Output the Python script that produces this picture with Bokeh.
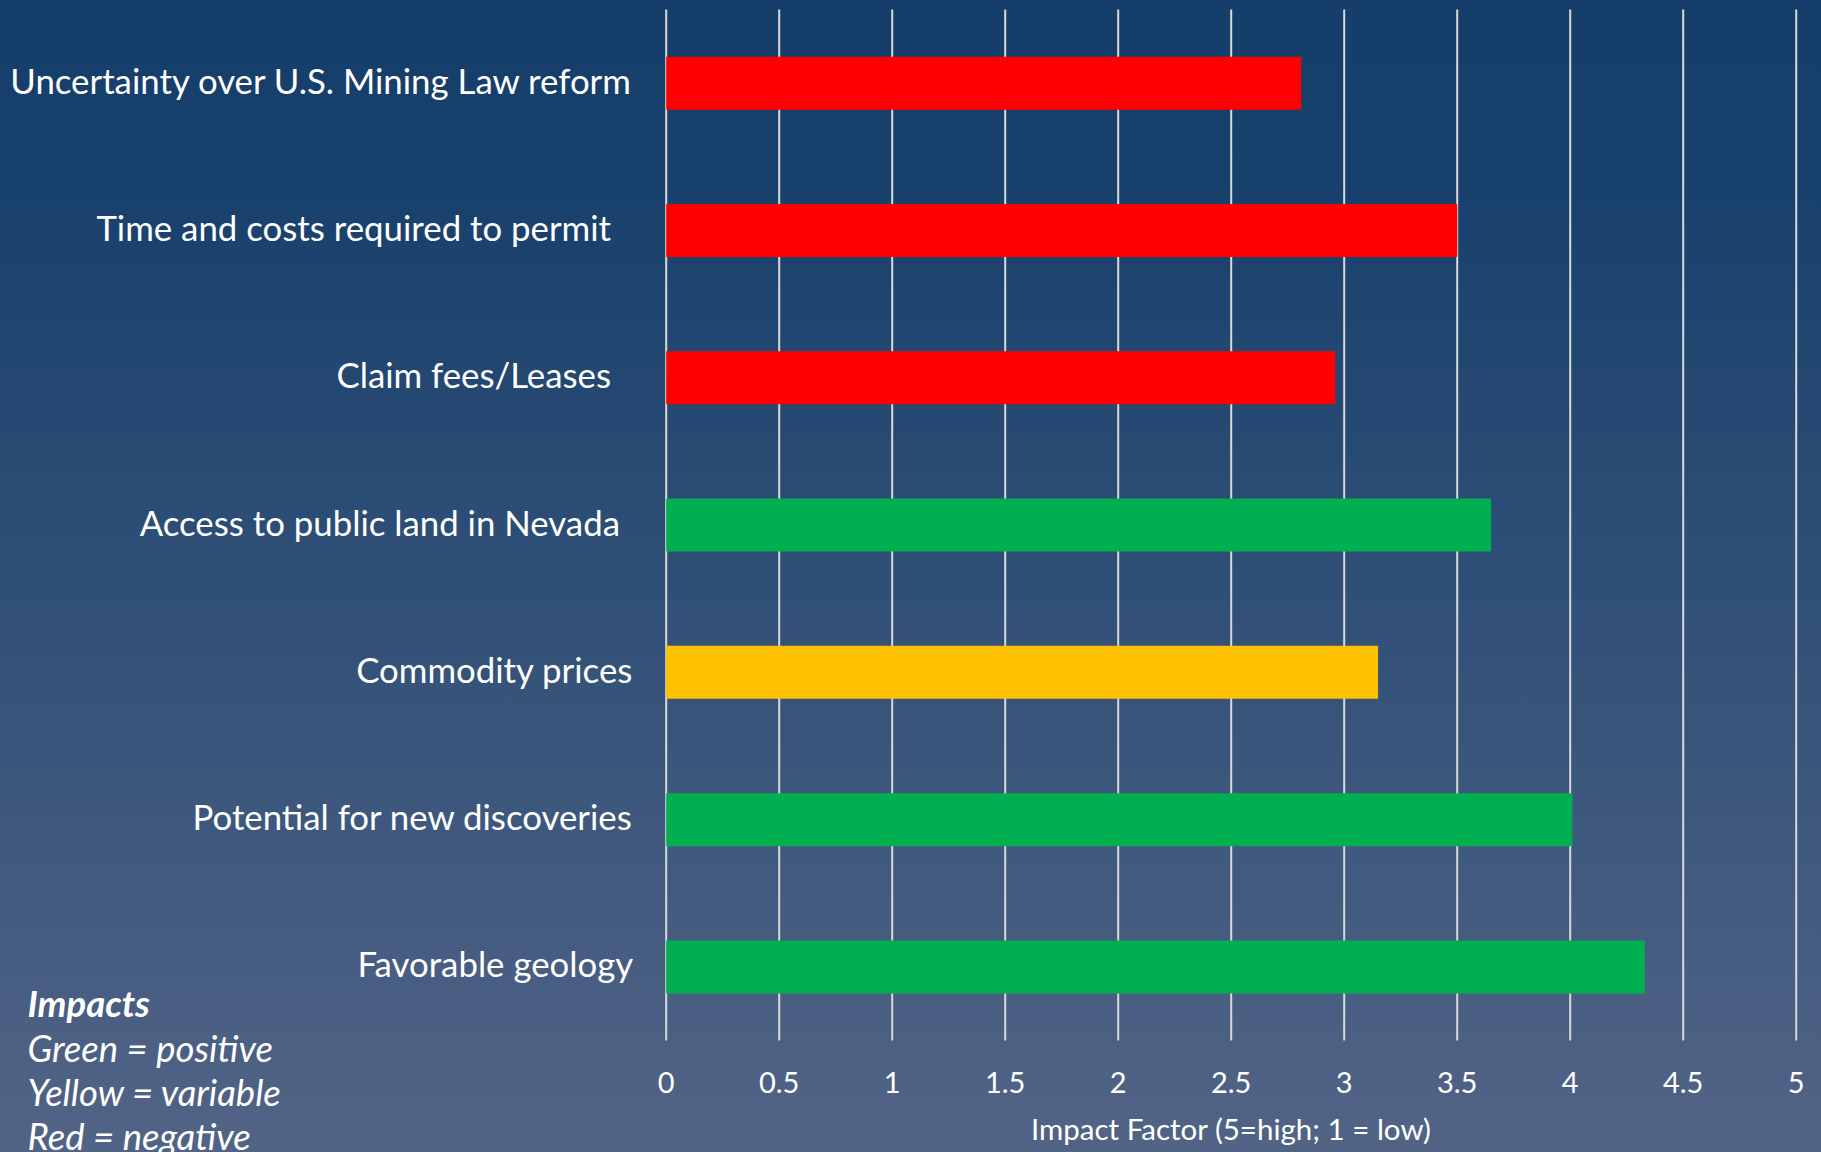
from bokeh.plotting import figure
from bokeh.models import Range1d
from bokeh.core.properties import value
from bokeh.embed import file_html
from bokeh.resources import INLINE

# ---- data ----
categories = [
    "Uncertainty over U.S. Mining Law reform",
    "Time and costs required to permit\u00a0\u00a0\u2009",
    "Claim fees/Leases\u00a0\u00a0\u2009",
    "Access to public land in Nevada\u00a0\u2009",
    "Commodity prices",
    "Potential for new discoveries",
    "Favorable geology",
]
impact_values = [2.81, 3.50, 2.96, 3.65, 3.15, 4.01, 4.33]
impact_kind = ["negative", "negative", "negative", "positive", "variable", "positive", "positive"]
kind_colors = {"positive": "#00B050", "variable": "#FFC000", "negative": "#FF0000"}
x_tick_values = [0, 0.5, 1, 1.5, 2, 2.5, 3, 3.5, 4, 4.5, 5]
x_tick_labels = ["0", "0.5", "1", "1.5", "2", "2.5", "3", "3.5", "4", "4.5", "5"]
x_axis_title = "Impact Factor (5=high; 1 = low)"
legend_title = "Impacts"
legend_lines = ["Green = positive", "Yellow = variable", "Red = negative"]

FONT = value("Lato")

# ---- layout geometry (pixels) ----
W, H = 1821, 1152
PX_UNIT = 226.0      # pixels per impact unit
ZERO_PX = 665.7      # x pixel of impact value 0
BAND_PX = 147.3      # pixels per category band
TOP_PX = 9.0         # top of the category area
N = len(categories)
BOTTOM_PX = TOP_PX + N * BAND_PX


def dx(px):
    return (px - ZERO_PX) / PX_UNIT


def dy(px):
    return (BOTTOM_PX - px) / BAND_PX


p = figure(
    width=W, height=H,
    x_range=Range1d(dx(0), dx(W)),
    y_range=Range1d(dy(H), dy(0)),
    output_backend="svg", toolbar_location=None,
    x_axis_location=None, y_axis_location=None,
    min_border=0,
)
p.styles = {"background": "linear-gradient(to bottom, #163E6B 0%, #17406C 15%, #526486 100%)"}
p.background_fill_color = None
p.border_fill_color = None
p.outline_line_color = None
p.grid.visible = False

band_centers = [N - 0.5 - i for i in range(N)]

# vertical grid lines at the tick values, spanning the category area
p.segment(x0=x_tick_values, y0=0, x1=x_tick_values, y1=N,
          line_color="#D9D9D9", line_width=2)

# bars
bar_colors = [kind_colors[k] for k in impact_kind]
p.hbar(y=band_centers, left=0, right=impact_values, height=0.36,
       color=bar_colors, line_color=None)

# category labels (left of the zero line)
p.text(x=0, y=band_centers, text=categories, x_offset=-33, y_offset=-3,
       text_align="right", text_baseline="middle",
       text_color="white", text_font=FONT, text_font_size="34.8px")

# x tick labels
p.text(x=x_tick_values, y=dy(1082), text=x_tick_labels,
       text_align="center", text_baseline="middle",
       text_color="white", text_font=FONT, text_font_size="29px")

# x axis title
p.text(x=[(x_tick_values[0] + x_tick_values[-1]) / 2], y=dy(1128), text=[x_axis_title],
       text_align="center", text_baseline="middle",
       text_color="white", text_font=FONT, text_font_size="29.5px")

# notes in the lower-left corner
note_left_px = 27
p.text(x=dx(note_left_px), y=dy(1002), text=[legend_title],
       text_align="left", text_baseline="middle",
       text_color="white", text_font=FONT, text_font_size="36.5px",
       text_font_style="bold italic")
p.text(x=dx(note_left_px), y=[dy(1047), dy(1091), dy(1135)], text=legend_lines,
       text_align="left", text_baseline="middle",
       text_color="white", text_font=FONT, text_font_size="36.5px",
       text_font_style="italic")

open("out.html", "w").write(file_html(p, INLINE))
